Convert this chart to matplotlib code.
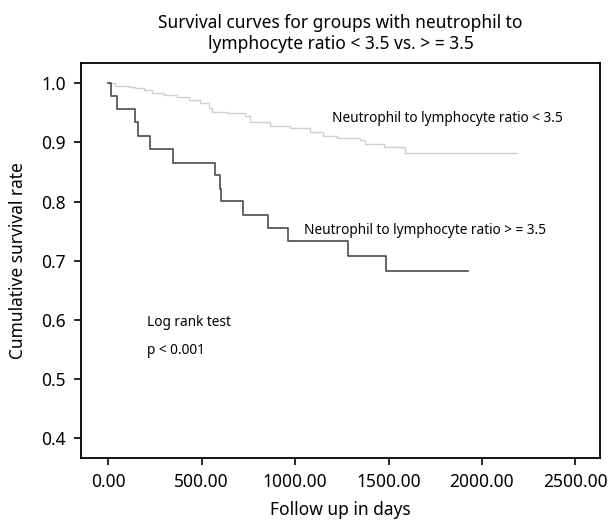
import numpy as np
import matplotlib.pyplot as plt
import matplotlib as mpl

mpl.rcParams['font.family'] = ['Noto Sans', 'DejaVu Sans']

# Kaplan-Meier step data (days, cumulative survival)
low_days = [0, 37, 109, 145, 189, 234, 296, 368, 430, 492, 537, 555, 635, 733, 756,
            867, 974, 1081, 1152, 1224, 1349, 1376, 1474, 1590, 2188]
low_surv = [1.0, 0.995, 0.994, 0.992, 0.989, 0.984, 0.980, 0.977, 0.972, 0.967, 0.958,
            0.951, 0.949, 0.945, 0.935, 0.927, 0.924, 0.918, 0.911, 0.907, 0.904,
            0.897, 0.893, 0.883, 0.883]

high_days = [0, 14, 46, 141, 159, 221, 344, 569, 596, 605, 721, 855, 962, 1283, 1488, 1923]
high_surv = [1.0, 0.978, 0.956, 0.934, 0.911, 0.889, 0.866, 0.845, 0.822, 0.801, 0.778,
             0.756, 0.734, 0.708, 0.682, 0.682]

xticks = [0, 500, 1000, 1500, 2000, 2500]
yticks = [0.4, 0.5, 0.6, 0.7, 0.8, 0.9, 1.0]

fig = plt.figure(figsize=(6.10, 5.21), dpi=100)
ax = fig.add_axes([81/610, 1 - 458/521, (600 - 81)/610, (458 - 63)/521])

ax.step(low_days, low_surv, where='post', color='#cfcfcf', linewidth=1)
ax.step(high_days, high_surv, where='post', color='#4a4a4a', linewidth=1.2)

ax.set_xlim(-146, 2632)
ax.set_ylim(0.3667, 1.0343)
ax.set_xticks(xticks)
ax.set_xticklabels(['{:.2f}'.format(x) for x in xticks], fontsize=12.5)
ax.set_yticks(yticks)
ax.set_yticklabels(['{:.1f}'.format(y) for y in yticks], fontsize=12.5)
ax.tick_params(direction='out', length=5, width=1.2, pad=6)
for s in ax.spines.values():
    s.set_linewidth(1.3)

ax.set_xlabel('Follow up in days', fontsize=12.5)
ax.xaxis.set_label_coords(0.5, -(510 - 458) / (458 - 63))
ax.xaxis.label.set_va('center')
ax.set_ylabel('Cumulative survival rate', fontsize=12.5, labelpad=10)
ax.set_title('Survival curves for groups with neutrophil to\nlymphocyte ratio < 3.5 vs. > = 3.5',
             fontsize=12.5, pad=10, linespacing=1.25)

ax.text(1199, 0.941, 'Neutrophil to lymphocyte ratio < 3.5', fontsize=9.8, va='center')
ax.text(1049, 0.752, 'Neutrophil to lymphocyte ratio > = 3.5', fontsize=9.8, va='center')
ax.text(209, 0.596, 'Log rank test', fontsize=9.8, va='center')
ax.text(209, 0.549, 'p < 0.001', fontsize=9.8, va='center')

fig.savefig('out.png', dpi=100)
